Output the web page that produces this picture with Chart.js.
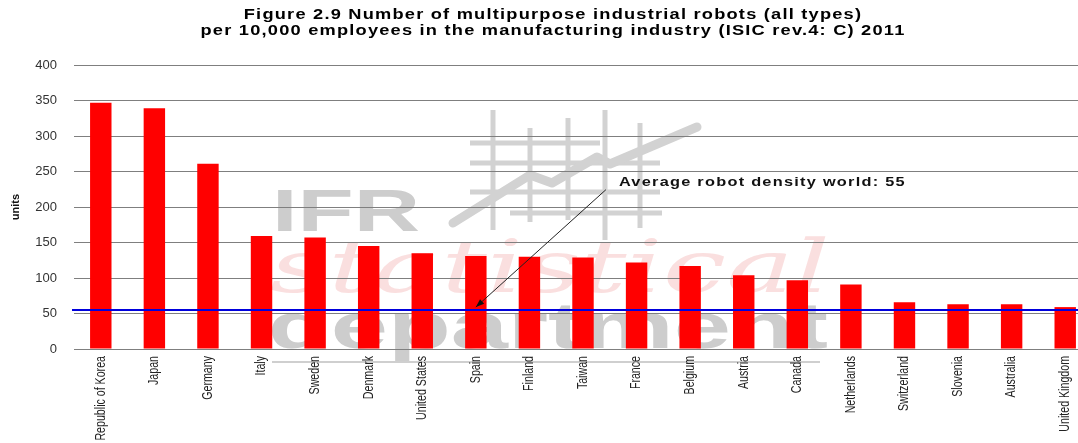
<!DOCTYPE html>
<html>
<head>
<meta charset="utf-8">
<title>Robot density 2011</title>
<script src="https://cdn.jsdelivr.net/npm/chart.js@4.4.1/dist/chart.umd.min.js"></script>
<style>
  html, body { margin: 0; padding: 0; background: #fff; overflow: hidden; }
  #wrap { width: 1092px; height: 443px; }
</style>
</head>
<body>
<div id="wrap"><canvas id="robotChart" width="1092" height="443"></canvas></div>
<script>
// Robot density per 10,000 manufacturing employees, 2011
const countries = [
  'Republic of Korea', 'Japan', 'Germany', 'Italy', 'Sweden', 'Denmark',
  'United States', 'Spain', 'Finland', 'Taiwan', 'France', 'Belgium',
  'Austria', 'Canada', 'Netherlands', 'Switzerland', 'Slovenia',
  'Australia', 'United Kingdom'
];
const robotDensity = [347, 339, 261, 159, 157, 145, 135, 131, 130, 129, 122, 117, 104, 97, 91, 66, 63, 63, 59];
const worldAverage = 55;
const yTicks = [0, 50, 100, 150, 200, 250, 300, 350, 400];

const titleLines = [
  'Figure 2.9 Number of multipurpose industrial robots (all types)',
  'per 10,000 employees in the manufacturing industry (ISIC rev.4: C) 2011'
];
const averageLabel = 'Average robot density world: ' + worldAverage;

const SANS = '"Liberation Sans", Arial, sans-serif';

// draw text stretched horizontally so that it fills a given width
function drawWideText(ctx, text, x, y, width, align) {
  const w = ctx.measureText(text).width;
  const s = width / w;
  ctx.save();
  const left = align === 'center' ? x - width / 2 : x;
  ctx.translate(left, y);
  ctx.scale(s, 1);
  ctx.textAlign = 'left';
  ctx.fillText(text, 0, 0);
  ctx.restore();
}

// IFR statistical department watermark, under the grid
function drawWatermark(ctx) {
  ctx.save();
  ctx.strokeStyle = '#d2d2d2';
  ctx.lineWidth = 5;
  ctx.lineCap = 'butt';
  [[493, 110, 230], [530, 128, 222], [568, 118, 220], [605, 110, 240], [640, 123, 228]].forEach(([x, y0, y1]) => {
    ctx.beginPath(); ctx.moveTo(x, y0); ctx.lineTo(x, y1); ctx.stroke();
  });
  [[143, 470, 600], [163, 470, 660], [192, 470, 660], [213, 510, 662]].forEach(([y, x0, x1]) => {
    ctx.beginPath(); ctx.moveTo(x0, y); ctx.lineTo(x1, y); ctx.stroke();
  });
  ctx.lineWidth = 9;
  ctx.lineCap = 'round';
  ctx.lineJoin = 'round';
  ctx.beginPath();
  ctx.moveTo(453, 223);
  ctx.lineTo(530, 175);
  ctx.lineTo(552, 183);
  ctx.lineTo(597, 157);
  ctx.lineTo(610, 164);
  ctx.lineTo(697, 127);
  ctx.stroke();

  ctx.fillStyle = '#cdcdcd';
  ctx.textBaseline = 'alphabetic';
  ctx.font = 'bold 60px ' + SANS;
  drawWideText(ctx, 'IFR', 272, 231, 148, 'left');

  ctx.fillStyle = 'rgba(240,150,150,0.3)';
  ctx.font = 'italic 72px "DejaVu Serif", serif';
  drawWideText(ctx, 'statistical', 270, 292, 560, 'left');

  ctx.fillStyle = '#cdcdcd';
  ctx.font = 'bold 64px ' + SANS;
  drawWideText(ctx, 'department', 268, 348, 560, 'left');

  ctx.strokeStyle = '#cfcfcf';
  ctx.lineWidth = 2;
  ctx.lineCap = 'butt';
  ctx.beginPath(); ctx.moveTo(272, 362); ctx.lineTo(820, 362); ctx.stroke();
  ctx.restore();
}

const overlayPlugin = {
  id: 'overlay',
  beforeDraw(chart) {
    drawWatermark(chart.ctx);
  },
  afterDatasetsDraw(chart) {
    const { ctx, chartArea, scales } = chart;
    const yAvg = scales.y.getPixelForValue(worldAverage);

    // world average line
    ctx.save();
    ctx.strokeStyle = '#0000dd';
    ctx.lineWidth = 2;
    ctx.beginPath();
    ctx.moveTo(chartArea.left - 2, yAvg);
    ctx.lineTo(chartArea.right, yAvg);
    ctx.stroke();

    // annotation with arrow pointing at the line over Spain
    const tipX = scales.x.getPixelForValue(7);
    const tipY = scales.y.getPixelForValue(worldAverage + 4);
    const textX = scales.x.getPixelForValue(9.67);
    const textY = scales.y.getPixelForValue(230);
    const startX = textX - 13;
    const startY = textY + 4;

    ctx.fillStyle = '#111';
    ctx.font = 'bold 13px ' + SANS;
    ctx.letterSpacing = '1px';
    ctx.textBaseline = 'alphabetic';
    drawWideText(ctx, averageLabel, textX, textY, 287, 'left');
    ctx.letterSpacing = '0px';

    ctx.strokeStyle = '#222';
    ctx.lineWidth = 1;
    ctx.beginPath();
    ctx.moveTo(startX, startY);
    ctx.lineTo(tipX, tipY);
    ctx.stroke();
    const ang = Math.atan2(tipY - startY, tipX - startX);
    const len = 9;
    ctx.beginPath();
    ctx.moveTo(tipX, tipY);
    ctx.lineTo(tipX - len * Math.cos(ang - 0.35), tipY - len * Math.sin(ang - 0.35));
    ctx.lineTo(tipX - len * Math.cos(ang + 0.35), tipY - len * Math.sin(ang + 0.35));
    ctx.closePath();
    ctx.fillStyle = '#111';
    ctx.fill();
    ctx.restore();
  },
  afterDraw(chart) {
    const { ctx, chartArea, scales } = chart;
    ctx.save();

    // title, two lines
    ctx.fillStyle = '#000';
    ctx.font = 'bold 15px ' + SANS;
    ctx.letterSpacing = '1px';
    ctx.textBaseline = 'middle';
    const w2 = ctx.measureText(titleLines[1]).width;
    const s = 705 / w2;
    drawWideText(ctx, titleLines[0], 553, 15, ctx.measureText(titleLines[0]).width * s, 'center');
    drawWideText(ctx, titleLines[1], 553, 31, 705, 'center');
    ctx.letterSpacing = '0px';

    // narrow vertical category labels
    ctx.fillStyle = '#222';
    ctx.font = '14px ' + SANS;
    ctx.textAlign = 'right';
    ctx.textBaseline = 'middle';
    countries.forEach((name, i) => {
      const x = scales.x.getPixelForTick(i);
      ctx.save();
      ctx.translate(x, chartArea.bottom + 7);
      ctx.rotate(-Math.PI / 2);
      ctx.scale(0.76, 1);
      ctx.fillText(name, 0, 0);
      ctx.restore();
    });
    ctx.restore();
  }
};

const ctx = document.getElementById('robotChart').getContext('2d');

new Chart(ctx, {
  type: 'bar',
  data: {
    labels: countries,
    datasets: [{
      label: 'units',
      data: robotDensity,
      backgroundColor: '#ff0000',
      borderWidth: 0,
      barPercentage: 0.4,
      categoryPercentage: 1.0
    }]
  },
  options: {
    responsive: false,
    animation: false,
    devicePixelRatio: 1,
    layout: {
      padding: { top: 65, left: 0, right: 0, bottom: 0 }
    },
    plugins: {
      legend: { display: false },
      tooltip: { enabled: false },
      title: { display: false }
    },
    scales: {
      x: {
        grid: { display: false },
        border: { display: false },
        ticks: { display: false },
        afterFit: scale => { scale.height = 94; }
      },
      y: {
        min: 0,
        max: 400,
        afterBuildTicks: scale => {
          scale.ticks = yTicks.map(v => ({ value: v }));
        },
        grid: {
          color: '#7f7f7f',
          lineWidth: 1,
          drawTicks: false
        },
        border: { display: false },
        ticks: {
          padding: 17,
          color: '#333',
          font: { family: SANS, size: 13 }
        },
        title: {
          display: true,
          text: 'units',
          color: '#111',
          padding: { top: 9, bottom: 0 },
          font: { family: SANS, size: 11, weight: 'bold' }
        },
        afterFit: scale => { scale.width = 74; }
      }
    }
  },
  plugins: [overlayPlugin]
});
</script>
</body>
</html>
